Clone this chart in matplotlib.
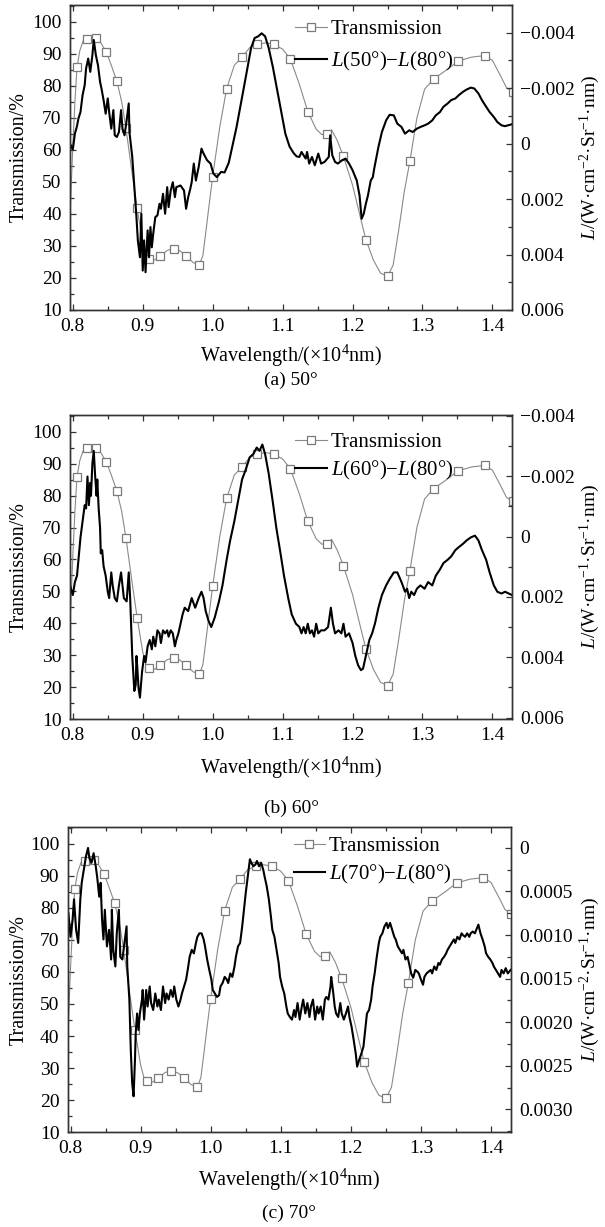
import numpy as np
import matplotlib
matplotlib.use("Agg")
import matplotlib.pyplot as plt
from matplotlib.ticker import MultipleLocator, FuncFormatter

plt.rcParams['font.family'] = ['Liberation Serif', 'DejaVu Serif']
plt.rcParams['mathtext.fontset'] = 'custom'
plt.rcParams['mathtext.rm'] = 'Liberation Serif'
plt.rcParams['mathtext.it'] = 'Liberation Serif:italic'
plt.rcParams['axes.unicode_minus'] = True

# Transmission (same curve in all three panels)
trans_wl = [0.806, 0.820, 0.833, 0.848, 0.863, 0.876, 0.892, 0.909, 0.925, 0.944,
            0.962, 0.981, 1.000, 1.020, 1.042, 1.064, 1.088, 1.111, 1.136, 1.163,
            1.187, 1.219, 1.250, 1.282, 1.316, 1.351, 1.389, 1.429]
trans_T = [85.8, 94.8, 94.9, 90.6, 81.5, 66.8, 41.8, 26.0, 26.8, 29.2,
           26.9, 24.1, 51.7, 79.2, 89.0, 93.0, 93.0, 88.5, 72.0, 65.0,
           58.0, 32.0, 20.5, 56.5, 82.2, 87.8, 89.5, 78.2]
# thin curve through the markers
curve_wl = [0.796, 0.798, 0.800, 0.803, 0.806, 0.810, 0.815, 0.820, 0.826, 0.833,
            0.840, 0.848, 0.855, 0.863, 0.870, 0.876, 0.884, 0.892, 0.900, 0.905,
            0.909, 0.917, 0.925, 0.935, 0.944, 0.953, 0.962, 0.972, 0.981, 0.986,
            0.990, 0.995, 1.000, 1.010, 1.020, 1.031, 1.042, 1.053, 1.064, 1.076,
            1.088, 1.100, 1.111, 1.124, 1.136, 1.148, 1.156, 1.163, 1.170, 1.178,
            1.187, 1.200, 1.210, 1.219, 1.230, 1.240, 1.250, 1.258, 1.266, 1.274,
            1.282, 1.292, 1.303, 1.316, 1.333, 1.351, 1.370, 1.389, 1.400, 1.412,
            1.420, 1.429]
curve_T = [40, 50, 61, 75, 85.8, 91, 94.2, 94.8, 95.6, 94.9,
           93.5, 90.6, 86.5, 81.5, 75, 66.8, 54, 41.8, 31, 26.8,
           26.0, 25.6, 26.8, 28.6, 29.2, 28.5, 26.9, 24.8, 24.1, 27,
           34, 43, 51.7, 67, 79.2, 86.5, 89.0, 92, 93.0, 93.5,
           93.0, 91.5, 88.5, 80.5, 72.0, 66.5, 64.8, 65.0, 66.3, 63,
           58.0, 49, 40, 32.0, 25.5, 21.5, 20.5, 24, 35, 47,
           56.5, 70, 79, 82.2, 84.8, 87.8, 89.0, 89.5, 88, 83,
           79.5, 78.2]

# L(50°)-L(80°), units 1e-3 W cm^-2 Sr^-1 nm
wl_50 = [0.796, 0.800, 0.803, 0.806, 0.808, 0.811, 0.814, 0.817, 0.819, 0.822,
         0.825, 0.828, 0.830, 0.833, 0.836, 0.839, 0.841, 0.844, 0.847, 0.850,
         0.852, 0.855, 0.858, 0.860, 0.863, 0.866, 0.869, 0.871, 0.874, 0.877,
         0.880, 0.881, 0.885, 0.888, 0.891, 0.893, 0.896, 0.898, 0.900, 0.902,
         0.904, 0.907, 0.909, 0.911, 0.913, 0.915, 0.918, 0.921, 0.924, 0.926,
         0.929, 0.932, 0.935, 0.937, 0.940, 0.943, 0.946, 0.948, 0.954, 0.959,
         0.962, 0.965, 0.968, 0.970, 0.973, 0.976, 0.980, 0.984, 0.987, 0.992,
         0.997, 1.001, 1.006, 1.012, 1.017, 1.023, 1.028, 1.034, 1.040, 1.045,
         1.050, 1.055, 1.060, 1.065, 1.070, 1.075, 1.080, 1.086, 1.092, 1.098,
         1.104, 1.110, 1.116, 1.120, 1.124, 1.127, 1.133, 1.135, 1.138, 1.142,
         1.146, 1.151, 1.155, 1.160, 1.166, 1.168, 1.171, 1.175, 1.179, 1.185,
         1.190, 1.195, 1.200, 1.206, 1.210, 1.213, 1.216, 1.219, 1.222, 1.226,
         1.229, 1.231, 1.237, 1.242, 1.248, 1.253, 1.259, 1.264, 1.270, 1.275,
         1.281, 1.286, 1.292, 1.297, 1.303, 1.308, 1.314, 1.319, 1.325, 1.330,
         1.336, 1.341, 1.347, 1.352, 1.358, 1.363, 1.369, 1.374, 1.380, 1.385,
         1.391, 1.396, 1.402, 1.407, 1.413, 1.418, 1.428]
L_50 = [0.00, 0.22, -0.36, -0.63, -0.90, -1.14, -1.75, -2.11, -2.71, -3.07,
        -2.59, -3.19, -3.74, -3.19, -2.83, -2.23, -1.99, -1.57, -1.08, -1.63,
        -1.14, -0.54, -1.21, -0.30, -0.24, -0.42, -1.21, -0.54, -0.30, -0.84,
        -1.45, -0.42, 0.48, 1.57, 2.65, 3.49, 4.10, 2.53, 4.58, 3.49,
        4.64, 3.13, 4.10, 3.01, 3.74, 3.25, 2.65, 2.59, 2.17, 2.35,
        1.81, 2.53, 1.57, 2.29, 1.69, 1.39, 1.93, 1.57, 1.51, 1.69,
        2.35, 1.93, 1.63, 1.39, 0.72, 1.33, 0.84, 0.18, 0.36, 0.60,
        0.72, 1.08, 1.21, 1.02, 1.04, 0.69, 0.11, -0.58, -1.39, -2.08,
        -2.77, -3.46, -3.81, -3.87, -3.98, -3.87, -3.46, -2.77, -1.96, -1.15,
        -0.35, 0.11, 0.35, 0.46, 0.48, 0.30, 0.54, 0.30, 0.72, 0.48,
        0.78, 0.36, 0.72, 0.66, 0.48, -0.30, 0.42, 0.66, 0.72, 0.60,
        0.54, 0.72, 0.96, 1.33, 1.87, 2.71, 2.53, 2.17, 1.87, 1.33,
        1.21, 0.90, 0.12, -0.42, -0.84, -1.04, -1.02, -0.72, -0.60, -0.36,
        -0.48, -0.42, -0.54, -0.60, -0.66, -0.72, -0.84, -1.02, -1.14, -1.33,
        -1.45, -1.57, -1.63, -1.75, -1.87, -1.95, -2.02, -1.99, -1.81, -1.57,
        -1.33, -1.14, -0.96, -0.78, -0.66, -0.63, -0.70]

# L(60°)-L(80°)
wl_60 = [0.796, 0.800, 0.803, 0.806, 0.809, 0.811, 0.814, 0.817, 0.819, 0.821,
         0.823, 0.825, 0.826, 0.828, 0.830, 0.832, 0.834, 0.835, 0.837, 0.839,
         0.840, 0.842, 0.844, 0.847, 0.850, 0.852, 0.855, 0.857, 0.860, 0.863,
         0.866, 0.869, 0.871, 0.873, 0.877, 0.880, 0.882, 0.885, 0.888, 0.890,
         0.891, 0.892, 0.894, 0.896, 0.899, 0.902, 0.904, 0.907, 0.910, 0.913,
         0.915, 0.918, 0.921, 0.924, 0.926, 0.929, 0.932, 0.935, 0.937, 0.940,
         0.943, 0.946, 0.948, 0.951, 0.954, 0.957, 0.960, 0.965, 0.970, 0.975,
         0.980, 0.984, 0.987, 0.990, 0.994, 0.998, 1.003, 1.009, 1.014, 1.020,
         1.025, 1.031, 1.036, 1.042, 1.047, 1.053, 1.058, 1.063, 1.067, 1.071,
         1.075, 1.080, 1.086, 1.091, 1.097, 1.102, 1.108, 1.113, 1.119, 1.124,
         1.127, 1.130, 1.133, 1.136, 1.139, 1.142, 1.145, 1.148, 1.151, 1.155,
         1.160, 1.165, 1.169, 1.172, 1.175, 1.180, 1.184, 1.187, 1.190, 1.195,
         1.200, 1.204, 1.208, 1.212, 1.215, 1.218, 1.221, 1.224, 1.228, 1.232,
         1.237, 1.242, 1.248, 1.253, 1.259, 1.264, 1.270, 1.275, 1.278, 1.281,
         1.284, 1.288, 1.292, 1.297, 1.303, 1.308, 1.314, 1.319, 1.325, 1.330,
         1.336, 1.341, 1.347, 1.352, 1.358, 1.363, 1.369, 1.375, 1.380, 1.385,
         1.391, 1.396, 1.402, 1.407, 1.413, 1.418, 1.428]
L_60 = [1.62, 1.94, 1.51, 1.30, 0.56, 0.03, -0.51, -1.04, -0.93, -1.99,
        -1.04, -1.78, -1.35, -2.42, -2.84, -1.99, -1.35, -1.89, -0.93, -0.29,
        0.56, 0.45, 0.98, 1.30, 1.83, 2.04, 1.19, 1.62, 2.04, 2.15,
        1.62, 1.19, 1.62, 2.04, 2.15, 1.19, 2.04, 3.96, 5.12, 4.91,
        3.96, 4.27, 5.02, 5.34, 4.49, 3.96, 4.17, 3.64, 3.43, 3.74,
        3.32, 3.64, 3.11, 3.21, 3.53, 3.11, 3.21, 3.11, 3.32, 3.11,
        3.21, 3.64, 3.43, 3.21, 2.89, 2.58, 2.36, 2.47, 2.04, 2.36,
        2.04, 1.83, 2.04, 2.47, 2.79, 3.00, 2.68, 2.15, 1.62, 0.77,
        0.13, -0.51, -1.14, -1.89, -2.20, -2.63, -2.73, -2.95, -2.84, -3.05,
        -2.73, -2.10, -1.14, -0.29, 0.56, 1.30, 2.04, 2.58, 2.89, 3.00,
        3.21, 3.00, 3.21, 2.89, 3.21, 3.11, 3.32, 2.89, 3.21, 3.11,
        3.11, 3.00, 2.36, 2.89, 3.21, 3.11, 3.21, 2.89, 3.32, 3.21,
        3.53, 3.96, 4.27, 4.43, 4.38, 4.06, 3.74, 3.43, 3.21, 2.89,
        2.36, 1.94, 1.62, 1.41, 1.19, 1.19, 1.51, 1.83, 1.73, 2.04,
        1.83, 1.94, 1.73, 1.62, 1.73, 1.51, 1.62, 1.30, 1.09, 0.88,
        0.77, 0.66, 0.45, 0.35, 0.24, 0.13, 0.03, -0.03, 0.13, 0.45,
        0.77, 1.19, 1.62, 1.83, 1.89, 1.83, 1.94]

# L(70°)-L(80°)
wl_70 = [0.797, 0.800, 0.803, 0.805, 0.808, 0.811, 0.814, 0.816, 0.819, 0.822,
         0.825, 0.827, 0.830, 0.833, 0.836, 0.838, 0.841, 0.843, 0.845, 0.847,
         0.849, 0.852, 0.855, 0.858, 0.859, 0.861, 0.864, 0.866, 0.869, 0.871,
         0.874, 0.877, 0.880, 0.881, 0.884, 0.886, 0.888, 0.890, 0.892, 0.893,
         0.895, 0.897, 0.899, 0.902, 0.903, 0.905, 0.908, 0.910, 0.913, 0.915,
         0.918, 0.921, 0.924, 0.926, 0.929, 0.932, 0.935, 0.937, 0.940, 0.943,
         0.946, 0.948, 0.951, 0.954, 0.957, 0.959, 0.962, 0.965, 0.968, 0.970,
         0.973, 0.976, 0.979, 0.981, 0.984, 0.987, 0.990, 0.992, 0.995, 0.998,
         1.001, 1.003, 1.006, 1.009, 1.012, 1.014, 1.017, 1.020, 1.023, 1.025,
         1.028, 1.031, 1.034, 1.036, 1.039, 1.042, 1.045, 1.047, 1.050, 1.053,
         1.056, 1.058, 1.061, 1.064, 1.066, 1.069, 1.072, 1.075, 1.077, 1.080,
         1.083, 1.086, 1.088, 1.091, 1.094, 1.097, 1.099, 1.102, 1.105, 1.108,
         1.110, 1.113, 1.116, 1.119, 1.121, 1.124, 1.127, 1.130, 1.132, 1.135,
         1.138, 1.141, 1.143, 1.146, 1.149, 1.152, 1.154, 1.157, 1.160, 1.163,
         1.165, 1.168, 1.171, 1.172, 1.175, 1.177, 1.179, 1.182, 1.185, 1.187,
         1.190, 1.193, 1.196, 1.198, 1.201, 1.204, 1.207, 1.209, 1.212, 1.215,
         1.218, 1.220, 1.223, 1.226, 1.229, 1.231, 1.234, 1.237, 1.240, 1.242,
         1.245, 1.248, 1.251, 1.253, 1.256, 1.259, 1.262, 1.264, 1.267, 1.270,
         1.273, 1.275, 1.278, 1.281, 1.284, 1.286, 1.289, 1.292, 1.295, 1.297,
         1.300, 1.303, 1.305, 1.308, 1.311, 1.314, 1.316, 1.319, 1.322, 1.325,
         1.327, 1.330, 1.333, 1.336, 1.338, 1.341, 1.344, 1.347, 1.349, 1.352,
         1.355, 1.358, 1.360, 1.363, 1.366, 1.369, 1.371, 1.374, 1.377, 1.380,
         1.382, 1.385, 1.388, 1.391, 1.393, 1.396, 1.399, 1.402, 1.404, 1.407,
         1.410, 1.413, 1.415, 1.418, 1.421, 1.424, 1.428]
L_70 = [0.75, 1.02, 0.82, 0.59, 0.94, 1.09, 0.59, 0.40, 0.25, 0.10,
        0.00, 0.12, 0.17, 0.06, 0.21, 0.33, 0.56, 0.40, 0.82, 1.05,
        0.71, 1.13, 0.94, 1.28, 0.71, 1.17, 1.36, 0.98, 0.71, 1.25,
        1.28, 1.09, 0.90, 1.36, 1.74, 2.32, 2.70, 2.85, 2.43, 2.13,
        1.90, 2.09, 1.90, 1.74, 1.63, 1.97, 1.63, 1.82, 1.59, 1.78,
        1.86, 1.67, 1.82, 1.74, 1.86, 1.59, 1.78, 1.67, 1.74, 1.63,
        1.71, 1.59, 1.74, 1.82, 1.74, 1.67, 1.59, 1.51, 1.36, 1.25,
        1.17, 1.21, 1.09, 1.02, 0.98, 0.98, 1.05, 1.13, 1.28, 1.40,
        1.51, 1.63, 1.67, 1.71, 1.69, 1.59, 1.55, 1.48, 1.51, 1.55,
        1.44, 1.48, 1.36, 1.25, 1.13, 1.09, 0.90, 0.75, 0.52, 0.33,
        0.13, 0.17, 0.21, 0.19, 0.15, 0.21, 0.17, 0.25, 0.33, 0.44,
        0.59, 0.79, 0.94, 1.02, 1.17, 1.32, 1.48, 1.59, 1.67, 1.82,
        1.90, 1.94, 1.97, 1.86, 1.94, 1.78, 1.97, 1.82, 1.74, 1.90,
        1.78, 1.94, 1.82, 1.74, 1.97, 1.82, 1.90, 1.82, 1.97, 1.74,
        1.71, 1.74, 1.59, 1.48, 1.67, 1.82, 1.90, 1.94, 1.78, 1.90,
        1.97, 1.90, 1.82, 1.94, 2.05, 2.20, 2.36, 2.51, 2.43, 2.36,
        2.28, 2.13, 1.90, 1.86, 1.74, 1.59, 1.44, 1.25, 1.09, 1.02,
        0.98, 0.90, 0.86, 0.92, 0.86, 0.94, 1.02, 1.05, 1.13, 1.17,
        1.21, 1.17, 1.28, 1.25, 1.36, 1.44, 1.49, 1.40, 1.42, 1.44,
        1.51, 1.57, 1.48, 1.44, 1.42, 1.40, 1.44, 1.36, 1.40, 1.32,
        1.34, 1.28, 1.25, 1.21, 1.17, 1.13, 1.09, 1.05, 1.09, 1.02,
        1.05, 0.98, 1.00, 1.02, 0.98, 1.02, 0.98, 0.96, 0.98, 0.92,
        0.88, 0.98, 1.05, 1.13, 1.21, 1.25, 1.28, 1.32, 1.36, 1.40,
        1.44, 1.48, 1.40, 1.44, 1.38, 1.44, 1.40]

panels = [
    dict(rect=[0.1157, 0.7474, 0.7306, 0.2485], wl=wl_50, L=L_50, angle='50',
         rlim=(0.006, -0.005), rstep=0.002, rminor=0.001, rdec=3, cm='2',
         caption='(a) 50°', xlab_y=0.7099, cap_y=0.6903, leg_y=0.952, leg_sp=0.5),
    dict(rect=[0.1157, 0.4140, 0.7306, 0.2478], wl=wl_60, L=L_60, angle='60',
         rlim=(0.00605, -0.00403), rstep=0.002, rminor=0.001, rdec=3, cm='1',
         caption='(b) 60°', xlab_y=0.3741, cap_y=0.3415, leg_y=0.942, leg_sp=0.32),
    dict(rect=[0.1119, 0.0774, 0.7321, 0.2486], wl=wl_70, L=L_70, angle='70',
         rlim=(0.00326, -0.00024), rstep=0.0005, rminor=0.00025, rdec=4, cm='2',
         caption='(c) 70°', xlab_y=0.0383, cap_y=0.0114, leg_y=0.969, leg_sp=0.32),
]

fig = plt.figure(figsize=(6.05, 12.27), dpi=100)
fs = 14
gray = '#8a8a8a'

for p in panels:
    ax = fig.add_axes(p['rect'])
    ax2 = ax.twinx()
    ax.plot(curve_wl, curve_T, '-', color=gray, lw=0.8, zorder=2)
    ax.plot(trans_wl, trans_T, 's', ms=5.5, mfc='white', mec='#7a7a7a', mew=0.9,
            zorder=3)
    ax2.plot(p['wl'], np.array(p['L']) * 1e-3, '-', color='black', lw=1.5)

    ax.set_xlim(0.796, 1.428)
    ax.set_ylim(10, 105.3)
    ax2.set_ylim(*p['rlim'])

    ax.xaxis.set_major_locator(MultipleLocator(0.1))
    ax.xaxis.set_minor_locator(MultipleLocator(0.05))
    ax.yaxis.set_major_locator(MultipleLocator(10))
    ax.yaxis.set_minor_locator(MultipleLocator(5))
    ax.xaxis.set_major_formatter(FuncFormatter(lambda v, pos: f'{v:.1f}'))
    ax2.yaxis.set_major_locator(MultipleLocator(p['rstep']))
    ax2.yaxis.set_minor_locator(MultipleLocator(p['rminor']))
    dec = p['rdec']
    ax2.yaxis.set_major_formatter(FuncFormatter(
        lambda v, pos, d=dec: '0' if abs(v) < 1e-9 else f'{v:.{d}f}'.replace('-', '\u2212')))

    ax.tick_params(which='both', direction='in', top=True, right=False,
                   labelsize=fs, color='#333333')
    ax.tick_params(which='major', length=4.5, width=0.9, pad=6)
    ax.tick_params(which='minor', length=2.8, width=0.9)
    ax2.tick_params(which='both', direction='in', labelsize=fs, color='#333333')
    ax2.tick_params(which='major', length=4.5, width=0.9, pad=6)
    ax2.tick_params(which='minor', length=2.8, width=0.9)
    for a in (ax, ax2):
        for s in a.spines.values():
            s.set_linewidth(1.0)
            s.set_color('#333333')

    # labels
    x0, y0, w, h = p['rect']
    fig.text(0.032, y0 + h / 2, 'Transmission/%', rotation=90, ha='center',
             va='center', fontsize=fs + 0.5)
    fig.text(0.975, y0 + h / 2,
             '$\\mathit{L}$/(W·cm$^{-' + p['cm'] + '}$·Sr$^{-1}$·nm)',
             rotation=90, ha='center', va='center', fontsize=fs)
    fig.text(x0 + w / 2, p['xlab_y'], 'Wavelength/(×10$^{4}$nm)', ha='center',
             va='center', fontsize=fs + 0.5)
    fig.text(x0 + w / 2, p['cap_y'], p['caption'], ha='center', va='center',
             fontsize=fs)

    # legend
    h1, = ax2.plot([], [], '-s', color=gray, lw=0.8, ms=5.5, mfc='white',
                   mec='#7a7a7a', mew=0.9)
    h2, = ax2.plot([], [], '-', color='black', lw=1.5)
    lab2 = '$\\mathit{L}$(' + p['angle'] + '°)\u2212$\\mathit{L}$(80°)'
    ax2.legend([h1, h2], ['Transmission', lab2], loc='upper left',
               bbox_to_anchor=(0.51, p['leg_y']), frameon=False, fontsize=fs + 1,
               handlelength=1.5, handletextpad=0.2, labelspacing=p['leg_sp'],
               borderaxespad=0, borderpad=0)

fig.savefig('out.png', dpi=100)
